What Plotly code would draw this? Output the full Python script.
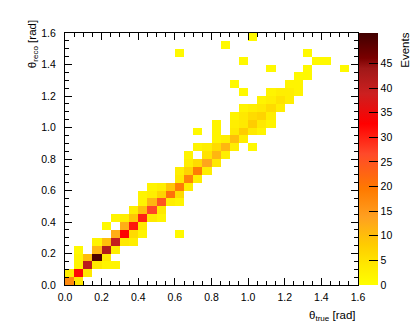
import numpy as np
import plotly.graph_objects as go

# bin centres (rad) and contents, 0.05 rad bins
theta_true = [0.025, 0.075,
              0.025, 0.075, 0.125,
              0.075, 0.125, 0.175, 0.225, 0.275,
              0.075, 0.125, 0.175, 0.225,
              0.075, 0.175, 0.225, 0.275,
              0.175, 0.225, 0.275, 0.325, 0.375,
              0.275, 0.325, 0.375, 0.425, 0.625,
              0.225, 0.325, 0.375, 0.425,
              0.275, 0.325, 0.375, 0.425, 0.475, 0.525,
              0.375, 0.425, 0.475, 0.525,
              0.425, 0.475, 0.525, 0.575, 0.625,
              0.425, 0.475, 0.525, 0.575, 0.625,
              0.475, 0.525, 0.575, 0.625, 0.675,
              0.625, 0.675, 0.725,
              0.625, 0.675, 0.725, 0.775,
              0.675, 0.725, 0.775, 0.825,
              0.675, 0.775, 0.825, 0.875,
              0.725, 0.775, 0.825, 0.875, 0.925, 1.025,
              0.825, 0.875, 0.925, 0.975,
              0.725, 0.825, 0.925, 0.975, 1.025, 1.075,
              0.825, 0.925, 0.975, 1.025, 1.075, 1.125,
              0.925, 0.975, 1.025, 1.075, 1.125,
              0.975, 1.025, 1.075, 1.125, 1.175,
              1.075, 1.125, 1.175, 1.225,
              0.975, 1.125, 1.175, 1.225, 1.275,
              0.925, 1.225, 1.275,
              1.275, 1.325,
              1.125, 1.325, 1.525,
              0.975, 1.375, 1.425,
              0.625, 1.325,
              0.875,
              1.025]
theta_reco = [0.025] * 2 + [0.075] * 3 + [0.125] * 5 + [0.175] * 4 + [0.225] * 4 \
    + [0.275] * 5 + [0.325] * 5 + [0.375] * 4 + [0.425] * 6 + [0.475] * 4 \
    + [0.525] * 5 + [0.575] * 5 + [0.625] * 5 + [0.675] * 3 + [0.725] * 4 \
    + [0.775] * 4 + [0.825] * 4 + [0.875] * 6 + [0.925] * 4 + [0.975] * 6 \
    + [1.025] * 6 + [1.075] * 5 + [1.125] * 5 + [1.175] * 4 + [1.225] * 5 \
    + [1.275] * 3 + [1.325] * 2 + [1.375] * 3 + [1.425] * 3 + [1.475] * 2 \
    + [1.525] + [1.575]
events = [17, 4,
          3, 32, 4,
          2, 41, 4, 2, 2,
          2, 10, 50, 4,
          1, 11, 42, 3,
          2, 10, 40, 4, 3,
          12, 33, 6, 2, 1,
          1, 12, 31, 4,
          2, 3, 9, 30, 4, 2,
          3, 10, 27, 4,
          2, 11, 25, 3, 2,
          2, 3, 7, 21, 6,
          2, 3, 9, 19, 3,
          4, 18, 3,
          3, 7, 19, 3,
          3, 6, 13, 4,
          2, 5, 11, 3,
          2, 3, 6, 11, 3, 1,
          2, 3, 10, 3,
          1, 2, 4, 8, 4, 2,
          2, 3, 4, 8, 4, 2,
          2, 4, 6, 7, 3,
          2, 3, 4, 6, 3,
          2, 3, 5, 3,
          1, 2, 3, 3, 2,
          1, 2, 2,
          1, 1,
          1, 1, 1,
          1, 1, 1,
          1, 1,
          1,
          1]

bw = 0.05
centres = np.arange(32) * bw + bw / 2
z = np.full((32, 32), np.nan)
for x, y, n in zip(theta_true, theta_reco, events):
    z[int(y / bw), int(x / bw)] = n
z = np.where(np.isnan(z), None, z).tolist()

cscale = [[0.0, '#FFFF00'], [0.08, '#FFE800'], [0.16, '#FFCC00'],
          [0.27, '#FFA020'], [0.38, '#FF7A00'], [0.52, '#FF4A2A'],
          [0.64, '#FF0000'], [0.76, '#CC2020'], [0.86, '#A01818'],
          [0.9, '#7A0000'], [1.0, '#400000']]

font = dict(family='Liberation Sans, Arial, sans-serif', size=10.5, color='black')

fig = go.Figure()
fig.add_trace(go.Heatmap(
    x=centres, y=centres, z=z,
    zmin=0, zmax=51.2, colorscale=cscale,
    hoverongaps=False,
    colorbar=dict(x=1.003, xanchor='left', y=0.5, yanchor='middle',
                  len=1, lenmode='fraction', thickness=19, xpad=0, ypad=0,
                  outlinewidth=0, ticks='inside', ticklen=9, tickcolor='black',
                  tickvals=list(range(0, 50, 5)), tickfont=font),
))

axis = dict(range=[0, 1.6], tickvals=[round(0.2 * k, 1) for k in range(9)],
            tickformat='.1f', ticks='inside', ticklen=7, tickcolor='black',
            showline=True, linecolor='black', linewidth=1, mirror='ticks',
            showgrid=False, zeroline=False, tickfont=font,
            minor=dict(dtick=0.05, ticks='inside', ticklen=4, tickcolor='black'))
fig.update_xaxes(**axis, ticklabelstandoff=2)
fig.update_yaxes(**axis, ticklabelstandoff=6)

fig.add_annotation(text='θ<sub>true</sub> [rad]', xref='paper', yref='paper',
                   x=1, y=-0.123, xanchor='right', yanchor='middle',
                   showarrow=False, font=dict(font, size=11.5))
fig.add_annotation(text='θ<sub>reco</sub> [rad]', xref='paper', yref='paper',
                   x=-0.109, y=0.956, xanchor='center', yanchor='middle',
                   textangle=-90, showarrow=False, font=dict(font, size=11.5))
fig.add_annotation(text='Events', xref='paper', yref='paper',
                   x=1.16, y=0.933, xanchor='center', yanchor='middle',
                   textangle=-90, showarrow=False, font=dict(font, size=11.5))

fig.update_layout(width=411, height=336, plot_bgcolor='white', paper_bgcolor='white',
                  margin=dict(l=65, r=53, t=33, b=51, autoexpand=False),
                  showlegend=False)

# drop the page's default 8 px body margin so the figure fills the window
fig.write_html("out.html", config={'displayModeBar': False},
               post_script="document.body.style.margin = '0';")
